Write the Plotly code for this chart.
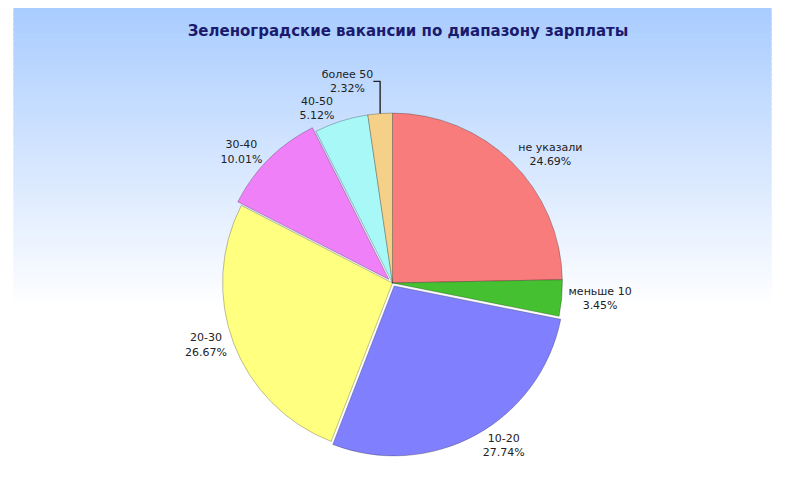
import plotly.graph_objects as go

labels = ["не указали", "меньше 10", "10-20", "20-30", "30-40", "40-50", "более 50"]
values = [24.69, 3.45, 27.74, 26.67, 10.01, 5.12, 2.32]
colors = ["#f87c7c", "#44c030", "#8080ff", "#ffff80", "#f080f8", "#a8f8f8", "#f4d088"]
pulls = [0, 0, 0.02, 0, 0.03, 0, 0]

fig = go.Figure()
fig.add_trace(go.Pie(
    labels=labels, values=values, sort=False, direction="clockwise", rotation=0,
    marker=dict(colors=colors, line=dict(color="rgba(0,0,0,0.25)", width=1)),
    pull=pulls,
    texttemplate="%{label}<br>%{value:.2f}%", textposition="outside",
    textfont=dict(family="DejaVu Sans", size=11, color="#222"),
    domain=dict(x=[0.15, 0.85], y=[0.1, 0.8]),
    showlegend=False,
))

# simulated gradient background
shapes = []
n = 60
for i in range(n):
    t = i / (n - 1)
    r = int(170 + (255 - 170) * t)
    g = int(205 + (255 - 205) * t)
    shapes.append(dict(type="rect", xref="paper", yref="paper", layer="below",
                       x0=-0.02, x1=1.02, y0=1 - (i + 1.5) * 0.6 / n, y1=1.02 - i * 0.6 / n if i == 0 else 1 - i * 0.6 / n,
                       line=dict(width=0), fillcolor=f"rgb({r},{g},255)"))

fig.update_layout(
    width=800, height=500,
    margin=dict(l=0, r=0, t=0, b=0),
    paper_bgcolor="white",
    shapes=shapes,
    title=dict(text="<b>Зеленоградские вакансии по диапазону зарплаты</b>",
               x=0.5, y=0.965, xanchor="center",
               font=dict(family="DejaVu Sans", size=15, color="#1a1a6e")),
)
fig.write_html("out.html")
